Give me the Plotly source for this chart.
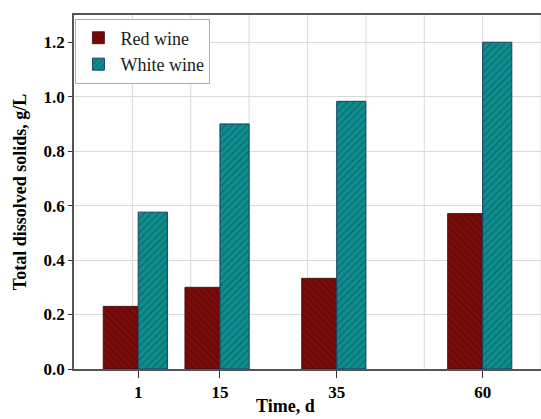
import plotly.graph_objects as go

# Sampling days and total dissolved solids (g/L)
days = [1, 15, 35, 60]
red_wine = [0.23, 0.30, 0.333, 0.571]
white_wine = [0.576, 0.90, 0.983, 1.20]
y_ticks = [0.0, 0.2, 0.4, 0.6, 0.8, 1.0, 1.2]
y_tick_text = ["0.0", "0.2", "0.4", "0.6", "0.8", "1.0", "1.2"]
x_grid = list(range(0, 71, 10))

serif = "Liberation Serif"

fig = go.Figure()
fig.add_trace(go.Bar(
    x=days, y=red_wine, name="Red wine",
    width=6, offset=-6,
    marker=dict(
        color="#7b0a0a",
        line=dict(color="#3a0a0a", width=0.8),
        pattern=dict(shape="\\", fgcolor="#4a0505", size=5, solidity=0.3, fillmode="overlay"),
    ),
))
fig.add_trace(go.Bar(
    x=days, y=white_wine, name="White wine",
    width=5, offset=0,
    marker=dict(
        color="#0d8f8f",
        line=dict(color="#1b3d66", width=1),
        pattern=dict(shape="/", fgcolor="#0a4d55", size=5, solidity=0.3, fillmode="overlay"),
    ),
))

# vertical grid every 10 days
for gx in x_grid:
    fig.add_shape(type="line", xref="x", yref="paper", x0=gx, x1=gx, y0=0, y1=1,
                  line=dict(color="#dadada", width=1), layer="below")

fig.add_annotation(
    text="<b>Time, d</b>", xref="paper", yref="paper",
    x=0.452, y=-0.105, xanchor="center", yanchor="middle",
    showarrow=False, font=dict(family=serif, size=18, color="black"),
)

fig.update_layout(
    width=541, height=419,
    margin=dict(l=74, r=0, t=15, b=50),
    paper_bgcolor="white", plot_bgcolor="white",
    barmode="overlay",
    font=dict(family=serif, color="black", size=17),
    legend=dict(
        x=0.003, y=0.99, xanchor="left", yanchor="top",
        bgcolor="white", bordercolor="#b0b0b0", borderwidth=1,
        font=dict(family=serif, size=18, color="#1a1a1a"),
        tracegroupgap=0, itemwidth=34,
    ),
    xaxis=dict(
        range=[-10, 70],
        tickmode="array", tickvals=days, ticktext=["<b>%d</b>" % d for d in days],
        tickfont=dict(family=serif, size=17, color="black"),
        ticks="outside", ticklen=7, tickcolor="#333333",
        showgrid=False, zeroline=False,
        showline=True, linecolor="#555555", linewidth=1.5, mirror=True,
    ),
    yaxis=dict(
        range=[0, 1.3],
        tickmode="array", tickvals=y_ticks, ticktext=["<b>%s</b>" % t for t in y_tick_text],
        tickfont=dict(family=serif, size=17, color="black"),
        ticks="outside", ticklen=4, tickcolor="#333333",
        showgrid=True, gridcolor="#dadada", gridwidth=1, zeroline=False,
        showline=True, linecolor="#555555", linewidth=1.5, mirror=False,
        title=dict(text="<b>Total dissolved solids, g/L</b>",
                   font=dict(family=serif, size=18), standoff=12),
    ),
)

fig.write_html("out.html")
